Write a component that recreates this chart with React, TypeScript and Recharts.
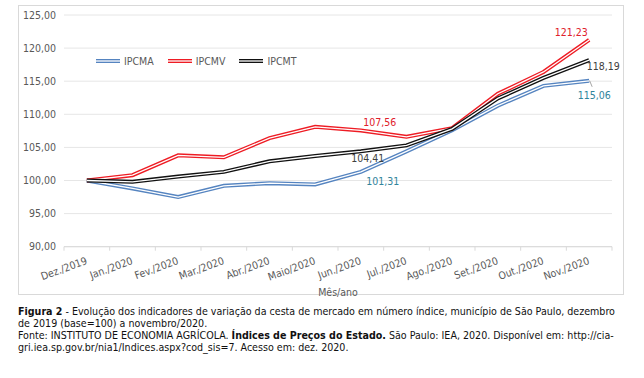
import React from 'react';
import { LineChart, Line, XAxis, YAxis, CartesianGrid, Legend, LabelList } from 'recharts';

const categories = [
  'Dez./2019', 'Jan./2020', 'Fev./2020', 'Mar./2020', 'Abr./2020', 'Maio/2020',
  'Jun./2020', 'Jul./2020', 'Ago./2020', 'Set./2020', 'Out./2020', 'Nov./2020',
];
const ipcma = [100, 98.8, 97.5, 99.2, 99.6, 99.4, 101.31, 104.4, 107.6, 111.3, 114.3, 115.06];
const ipcmv = [100, 100.8, 103.8, 103.5, 106.4, 108.1, 107.56, 106.6, 107.9, 113.1, 116.4, 121.23];
const ipcmt = [100, 99.8, 100.6, 101.3, 102.9, 103.7, 104.41, 105.3, 107.8, 112.4, 115.5, 118.19];
const yTicks = [90, 95, 100, 105, 110, 115, 120, 125];
const seriesNames = ['IPCMA', 'IPCMV', 'IPCMT'];

const data = categories.map((c, i) => ({ name: c, ipcma: ipcma[i], ipcmv: ipcmv[i], ipcmt: ipcmt[i] }));

const FONT = '"DejaVu Sans Condensed", "DejaVu Sans", sans-serif';
const CHART_W = 644;
const CHART_H = 300;
const MARGIN = { top: 15, right: 32, left: 0, bottom: 0 };
const Y_W = 64;
const BAND = (CHART_W - MARGIN.left - MARGIN.right - Y_W) / categories.length;

const BLUE = '#5584c0';
const RED = '#ee1c24';
const BLACK = '#111111';
const GRAY_TXT = '#595959';

const fmt = (v: number) => v.toFixed(2).replace('.', ',');

const XTick = (props: any) => {
  const { x, y, payload, index } = props;
  const half = BAND / 2;
  const ax = x + 1;
  const ay = y + 17;
  return (
    <g>
      <line x1={x - half} x2={x - half} y1={y} y2={y + 4} stroke="#d9d9d9" />
      {index === categories.length - 1 && (
        <line x1={x + half} x2={x + half} y1={y} y2={y + 4} stroke="#d9d9d9" />
      )}
      <text
        x={ax}
        y={ay}
        transform={`rotate(-20, ${ax}, ${ay})`}
        textAnchor="end"
        fill={GRAY_TXT}
        fontSize={10.5}
        fontFamily={FONT}
      >
        {payload.value}
      </text>
    </g>
  );
};

type LabelSpec = { dx: number; dy: number; color: string; leader?: boolean };

const makeLabel = (specs: Record<number, LabelSpec>) => (props: any) => {
  const { x, y, value, index } = props;
  const s = specs[index];
  if (!s || value == null) return null;
  return (
    <g>
      {s.leader && <line x1={x + 0.5} y1={y} x2={x + 3} y2={y + 6} stroke="#a6a6a6" strokeWidth={1} />}
      <text
        x={x + s.dx}
        y={y + s.dy + 3.8}
        textAnchor="middle"
        fill={s.color}
        fontSize={10.5}
        fontFamily={FONT}
      >
        {fmt(Number(value))}
      </text>
    </g>
  );
};

const blueLabels = makeLabel({
  6: { dx: 22, dy: 9, color: '#31849b' },
  11: { dx: 5, dy: 14, color: '#31849b', leader: true },
});
const redLabels = makeLabel({
  6: { dx: 19, dy: -8, color: '#e0202a' },
  11: { dx: -18, dy: -8, color: '#e0202a' },
});
const blackLabels = makeLabel({
  6: { dx: 7, dy: 6.5, color: '#404040' },
  11: { dx: 14, dy: 6, color: '#404040' },
});

const legendColors = [BLUE, RED, BLACK];

const renderLegend = () => (
  <div style={{ display: 'flex', alignItems: 'center', fontFamily: FONT, fontSize: 10.5, color: GRAY_TXT, lineHeight: '12px' }}>
    {seriesNames.map((n, i) => (
      <div key={n} style={{ display: 'flex', alignItems: 'center', marginRight: 14 }}>
        <svg width={24} height={6} style={{ marginRight: 4 }}>
          <line x1={0} x2={24} y1={3} y2={3} stroke={legendColors[i]} strokeWidth={4} />
          <line x1={0} x2={24} y1={3} y2={3} stroke="#fff" strokeWidth={1.3} />
        </svg>
        <span>{n}</span>
      </div>
    ))}
  </div>
);

const seriesLine = (key: string, color: string, labels: any) => [
  <Line key={key + '-o'} dataKey={key} stroke={color} strokeWidth={4} dot={false} activeDot={false} isAnimationActive={false} type="linear" />,
  <Line key={key + '-i'} dataKey={key} stroke="#ffffff" strokeWidth={1.3} dot={false} activeDot={false} isAnimationActive={false} type="linear" legendType="none">
    <LabelList dataKey={key} content={labels} />
  </Line>,
];

export default function App() {
  return (
    <div style={{ position: 'absolute', left: 0, top: 0, width: 644, height: 378, background: '#fff', fontFamily: FONT }}>
      <div style={{ position: 'absolute', left: 18, top: 5, width: 606, height: 290, border: '1px solid #d9d9d9', boxSizing: 'border-box' }} />
      <div style={{ position: 'absolute', left: 0, top: 0 }}>
        <LineChart width={CHART_W} height={CHART_H} data={data} margin={MARGIN}>
          <CartesianGrid vertical={false} stroke="#e6e6e6" />
          <XAxis
            dataKey="name"
            interval={0}
            padding={{ left: BAND / 2, right: BAND / 2 }}
            tickLine={false}
            tickSize={0}
            tickMargin={0}
            height={CHART_H - MARGIN.top - MARGIN.bottom - 231.7}
            axisLine={{ stroke: '#d9d9d9' }}
            tick={<XTick />}
            label={{ value: 'Mês/ano', position: 'insideBottom', offset: 4, fill: GRAY_TXT, fontSize: 10.5, fontFamily: FONT }}
          />
          <YAxis
            width={Y_W}
            domain={[90, 125]}
            ticks={yTicks}
            tickFormatter={fmt}
            axisLine={false}
            tickLine={false}
            tick={{ fill: GRAY_TXT, fontSize: 10.5, fontFamily: FONT }}
          />
          <Legend
            layout="horizontal"
            verticalAlign="middle"
            align="center"
            content={renderLegend}
            wrapperStyle={{ position: 'absolute', top: 54.5, left: 96, width: 'auto' }}
          />
          {seriesLine('ipcma', BLUE, blueLabels)}
          {seriesLine('ipcmv', RED, redLabels)}
          {seriesLine('ipcmt', BLACK, blackLabels)}
        </LineChart>
      </div>
      <div
        style={{
          position: 'absolute',
          left: 18,
          top: 304.7,
          fontSize: 10.6,
          lineHeight: '12px',
          color: '#111',
          whiteSpace: 'nowrap',
          fontFamily: FONT,
        }}
      >
        <div>
          <b>Figura 2</b> - Evolução dos indicadores de variação da cesta de mercado em número índice, município de São Paulo, dezembro
        </div>
        <div>de 2019 (base=100) a novembro/2020.</div>
        <div>
          Fonte: INSTITUTO DE ECONOMIA AGRÍCOLA. <b>Índices de Preços do Estado.</b> São Paulo: IEA, 2020. Disponível em: http://cia-
        </div>
        <div>gri.iea.sp.gov.br/nia1/Indices.aspx?cod_sis=7. Acesso em: dez. 2020.</div>
      </div>
    </div>
  );
}
